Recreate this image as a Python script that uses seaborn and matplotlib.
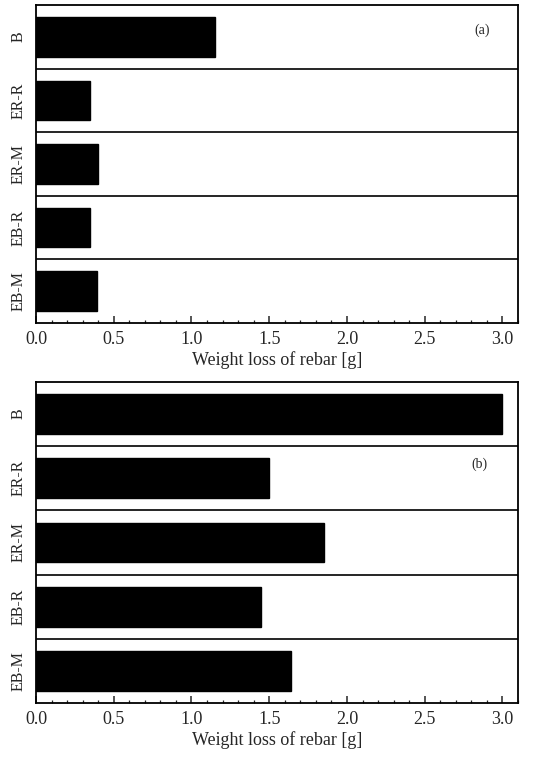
import matplotlib
matplotlib.use("Agg")
import matplotlib.pyplot as plt
from matplotlib.ticker import MultipleLocator
import seaborn as sns
import pandas as pd

categories = ["B", "ER-R", "ER-M", "EB-R", "EB-M"]
loss_a = [1.15, 0.35, 0.40, 0.35, 0.39]
loss_b = [3.00, 1.50, 1.85, 1.45, 1.64]
x_ticks = [0.0, 0.5, 1.0, 1.5, 2.0, 2.5, 3.0]
x_label = "Weight loss of rebar [g]"
panel_tags = ["(a)", "(b)"]

sns.set_style("ticks")
plt.rcParams["font.family"] = ["Liberation Serif", "DejaVu Serif"]
plt.rcParams["axes.linewidth"] = 1.3

fig = plt.figure(figsize=(5.36, 7.58), dpi=100)
ax_a = fig.add_axes([0.0672, 0.5739, 0.8992, 0.4195])
ax_b = fig.add_axes([0.0672, 0.0726, 0.8992, 0.4235])

panels = [
    (ax_a, loss_a, panel_tags[0], (2.87, -0.1)),
    (ax_b, loss_b, panel_tags[1], (2.85, 0.78)),
]

for ax, values, tag, tag_pos in panels:
    df = pd.DataFrame({"sample": categories, "loss": values})
    sns.barplot(data=df, x="loss", y="sample", orient="h", color="black",
                width=0.62, saturation=1, edgecolor="black", ax=ax)
    ax.set_xlim(0, 3.1)
    ax.set_ylim(4.5, -0.5)
    for b in range(len(categories) - 1):
        ax.axhline(b + 0.5, color="black", lw=1.2)
    ax.set_xticks(x_ticks)
    ax.set_xticklabels([f"{t:.1f}" for t in x_ticks], fontsize=13)
    ax.xaxis.set_minor_locator(MultipleLocator(0.1))
    ax.tick_params(axis="x", which="major", direction="in", length=5, width=1.1, pad=6)
    ax.tick_params(axis="x", which="minor", direction="in", length=2.5, width=0.9)
    ax.tick_params(axis="y", length=0, pad=7)
    for lbl in ax.get_yticklabels():
        lbl.set_rotation(90)
        lbl.set_va("center")
        lbl.set_fontsize(11.5)
    ax.set_ylabel("")
    ax.set_xlabel(x_label, fontsize=13, labelpad=2)
    ax.text(tag_pos[0], tag_pos[1], tag, fontsize=10, ha="center", va="center")
    for s in ax.spines.values():
        s.set_visible(True)
        s.set_color("black")

fig.savefig("out.png", dpi=100)
